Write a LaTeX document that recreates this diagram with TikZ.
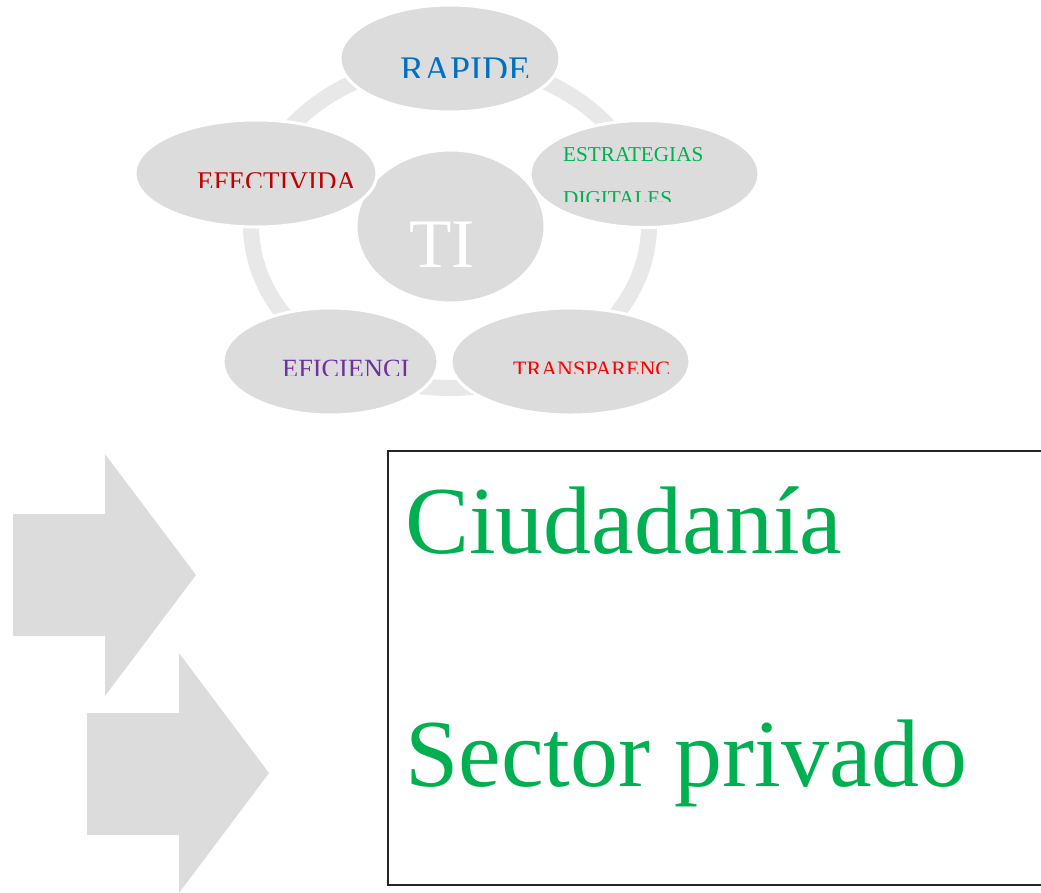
\documentclass[tikz,border=0pt]{standalone}
\usepackage{fontspec}
\setmainfont{Liberation Serif}
\usetikzlibrary{shapes.geometric}
\definecolor{bubblegray}{HTML}{DCDCDC}
\definecolor{ringgray}{HTML}{E8E8E8}
\definecolor{rapblue}{HTML}{0070C0}
\definecolor{estgreen}{HTML}{00B050}
\definecolor{efered}{HTML}{C00000}
\definecolor{efipurple}{HTML}{7030A0}
\definecolor{trared}{HTML}{FF0000}

\begin{document}
\begin{tikzpicture}[x=1pt,y=-1pt]

\tikzset{bubble/.style = {shape=ellipse,fill=bubblegray,draw=white,line width=3pt,inner sep=0pt}}
\tikzset{word/.style = {anchor=base west,inner sep=0pt}}
\useasboundingbox (0,0) rectangle (1041,892);
%ring
\draw[ringgray, line width=16pt] (450,225) ellipse [x radius=199pt, y radius=163pt];
%bubbles
\node[bubble, minimum width=189pt, minimum height=153pt] (ti) at (450.5,226.5) {};
\node[bubble, minimum width=220pt, minimum height=107pt] (rap) at (450,58.5) {};
\node[bubble, minimum width=229pt, minimum height=107pt] (est) at (644.5,174) {};
\node[bubble, minimum width=242pt, minimum height=107pt] (efe) at (256,173.5) {};
\node[bubble, minimum width=215pt, minimum height=107pt] (efi) at (330.5,361.5) {};
\node[bubble, minimum width=239pt, minimum height=107pt] (tra) at (570.5,361.5) {};
%labels
\node[word, text=white, font=\fontsize{69.5}{69.5}\selectfont] (tit) at (409,267) {TI};
\begin{scope}
\clip (390,40) rectangle (545,77);
\node[word, text=rapblue, font=\fontsize{36}{36}\selectfont] (rapt) at (400,81) {RAPIDE};
\end{scope}
\node[word, text=estgreen, font=\fontsize{21.2}{21.2}\selectfont] (estt) at (563,161) {ESTRATEGIAS};
\begin{scope}
\clip (550,180) rectangle (720,201);
\node[word, text=estgreen, font=\fontsize{21.2}{21.2}\selectfont] (estt2) at (563,205) {DIGITALES};
\end{scope}
\begin{scope}
\clip (190,160) rectangle (365,187.5);
\node[word, text=efered, font=\fontsize{27}{27}\selectfont] (efet) at (197,190) {EFECTIVIDA};
\end{scope}
\begin{scope}
\clip (275,345) rectangle (420,375);
\node[word, text=efipurple, font=\fontsize{26.3}{26.3}\selectfont] (efit) at (282,377.4) {EFICIENCI};
\end{scope}
\begin{scope}
\clip (505,345) rectangle (675,373.5);
\node[word, text=trared, font=\fontsize{22}{22}\selectfont] (trat) at (513,376) {TRANSPARENC};
\end{scope}
%arrows
\fill[bubblegray] (13,514) -- (105,514) -- (105,454) -- (196,575) -- (105,696) -- (105,636) -- (13,636) -- cycle;
\fill[bubblegray] (87,713) -- (179,713) -- (179,653) -- (269,773) -- (179,893) -- (179,835) -- (87,835) -- cycle;
%box
\draw[black!85, line width=1.2pt] (388,451) rectangle (1050,885);
\node[word, text=estgreen, font=\fontsize{96}{96}\selectfont] (ciu) at (405,553) {Ciudadanía};
\node[word, text=estgreen, font=\fontsize{96}{96}\selectfont] (sec) at (405,786) {Sector privado};

\end{tikzpicture}
\end{document}
